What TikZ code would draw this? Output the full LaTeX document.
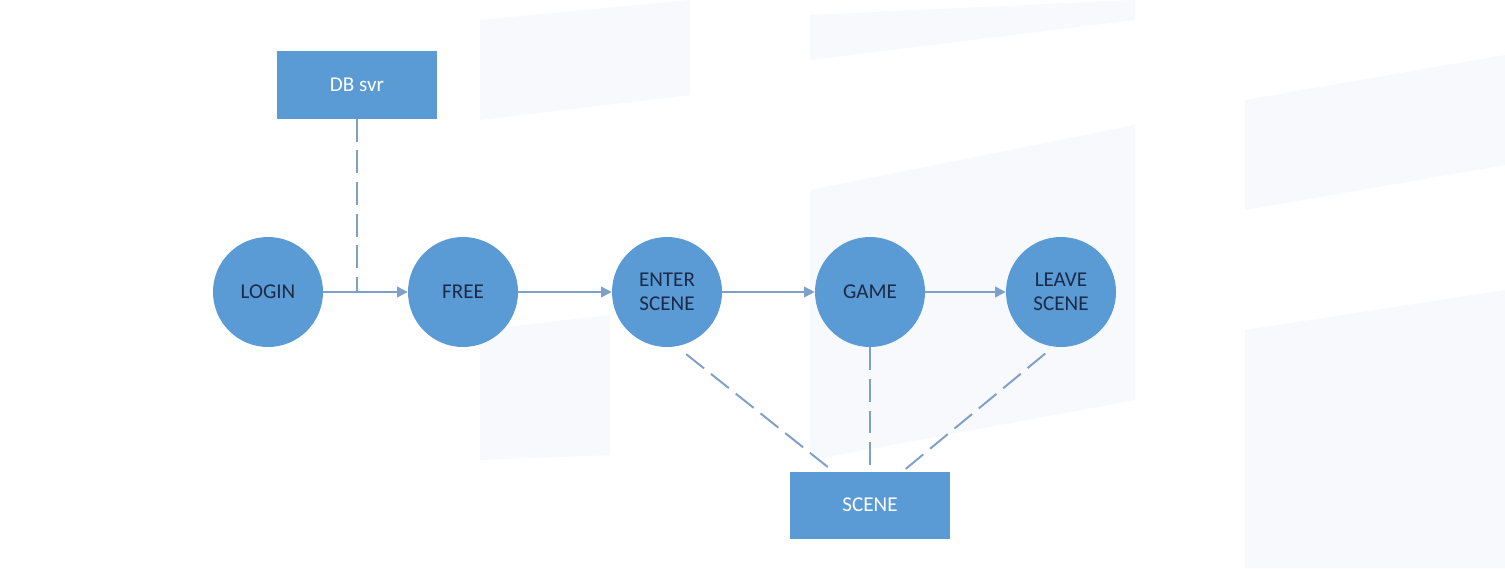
\documentclass[tikz,border=0pt]{standalone}
\usepackage{fontspec}
\setmainfont{Carlito}
\usetikzlibrary{arrows.meta}
\definecolor{boxblue}{HTML}{5B9BD5}
\definecolor{lineblue}{HTML}{7E9FC8}
\definecolor{textnavy}{HTML}{1B2A47}
\definecolor{faint}{HTML}{F7F9FC}

\begin{document}
\begin{tikzpicture}[x=0.2mm,y=-0.2mm,
        state/.style={circle,fill=boxblue,minimum size=22mm,inner sep=0pt,align=center,text=textnavy,font=\fontsize{12}{14}\selectfont},
        server/.style={rectangle,fill=boxblue,minimum width=32mm,minimum height=13.4mm,text=white,font=\fontsize{12}{14}\selectfont},
        flow/.style={lineblue,line width=1.1pt,-{Triangle[length=6pt,width=6pt]}},
        link/.style={lineblue,line width=1.1pt,dash pattern=on 13pt off 5pt}]
        \useasboundingbox[fill=white] (0,0) rectangle (1505,568);

        \fill[faint] (480,20) -- (690,0) -- (690,95) -- (480,120) -- cycle;
        \fill[faint] (480,330) -- (610,315) -- (610,455) -- (480,460) -- cycle;
        \fill[faint] (810,15) -- (1135,0) -- (1135,20) -- (810,60) -- cycle;
        \fill[faint] (810,190) -- (1135,125) -- (1135,400) -- (810,460) -- cycle;
        \fill[faint] (1245,100) -- (1505,55) -- (1505,165) -- (1245,210) -- cycle;
        \fill[faint] (1245,330) -- (1505,290) -- (1505,568) -- (1245,568) -- cycle;

        \node[server](db) at (357,85) {DB svr};
        \node[state](login) at (268,292) {LOGIN};
        \node[state](free) at (463,292) {FREE};
        \node[state](enter) at (667,292) {ENTER\\SCENE};
        \node[state](game) at (870,292) {GAME};
        \node[state](leave) at (1061,292) {LEAVE\\SCENE};
        \node[server](scene) at (870,505) {SCENE};
        \coordinate (j) at (db |- login);

        \draw[flow] (login) -- (free);
        \draw[flow] (free) -- (enter);
        \draw[flow] (enter) -- (game);
        \draw[flow] (game) -- (leave);
        \draw[link] (db) -- (j);
        \draw[link, shorten <=7pt] (enter.-80) -- ([xshift=-7.4mm]scene.north);
        \draw[link] (game) -- (scene);
        \draw[link, shorten <=6pt] (leave.-98) -- ([xshift=6.6mm]scene.north);
\end{tikzpicture}
\end{document}
